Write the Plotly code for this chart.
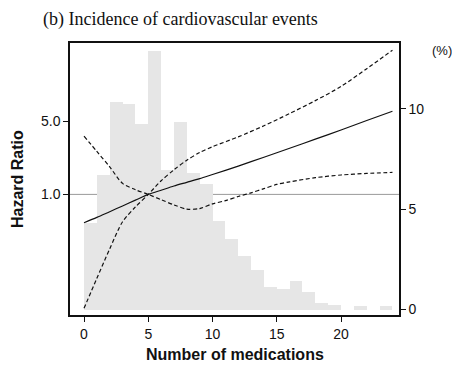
import plotly.graph_objects as go

# Histogram: share of patients (%) by number of medications (bins of width 1, 0..23)
bin_starts = list(range(24))
bin_pct = [4.32, 6.70, 10.31, 10.23, 9.25, 12.86, 6.95, 9.33, 6.81, 6.26,
           4.40, 3.50, 2.67, 1.97, 1.10, 1.03, 1.43, 0.87, 0.31, 0.21,
           0.0, 0.15, 0.0, 0.15]

# Hazard ratio curve
hr_x = [0, 1, 2, 3, 4, 5, 6, 7, 8, 9, 10, 12, 14, 16, 18, 20, 22, 24]
hr_y = [0.537, 0.603, 0.684, 0.776, 0.881, 1.0, 1.096, 1.202, 1.303, 1.413,
        1.549, 1.862, 2.265, 2.754, 3.365, 4.121, 5.070, 6.223]

# Confidence band curves (dashed)
ci_a_x = [0, 1, 2, 3, 4, 5, 6, 7, 8, 9, 10, 11, 12, 13, 14, 15, 16, 18, 20, 22, 24]
ci_a_y = [3.597, 2.570, 1.832, 1.274, 1.109, 1.0, 0.891, 0.794, 0.724, 0.733,
          0.813, 0.871, 0.955, 1.035, 1.135, 1.245, 1.318, 1.445, 1.531, 1.585, 1.622]
ci_b_x = [0, 1, 2, 3, 4, 5, 6, 7, 8, 9, 10, 12, 14, 16, 18, 20, 22, 24]
ci_b_y = [0.0818, 0.158, 0.302, 0.548, 0.759, 1.0, 1.349, 1.718, 2.123, 2.512,
          2.851, 3.540, 4.519, 5.916, 7.852, 10.72, 15.85, 23.77]

hr_ticks = [1.0, 5.0]
hr_ticktext = ["1.0", "5.0"]
pct_ticks = [0, 5, 10]
x_ticks = [0, 5, 10, 15, 20]

fig = go.Figure()
fig.add_trace(go.Bar(
    x=[b + 0.5 for b in bin_starts], y=bin_pct, width=1.0,
    marker=dict(color="#e6e6e6", line=dict(width=0)),
    yaxis="y", hoverinfo="skip", showlegend=False))

for xs, ys, dash in [(ci_a_x, ci_a_y, "4px,2.5px"), (ci_b_x, ci_b_y, "4px,2.5px"),
                     (hr_x, hr_y, "solid")]:
    fig.add_trace(go.Scatter(
        x=xs, y=ys, mode="lines", yaxis="y2",
        line=dict(color="#111111", width=1.2, dash=dash, shape="spline", smoothing=0.8),
        showlegend=False))

fig.add_shape(type="line", xref="paper", x0=0, x1=1, yref="y2", y0=1.0, y1=1.0,
              line=dict(color="#9a9a9a", width=1), layer="below")

axis_font = dict(family="Liberation Sans, Arial, sans-serif", size=14, color="#111111")

# page body has an 8px default margin; figure is sized to fit the 460x368 window
fig.update_layout(
    width=452, height=360,
    margin=dict(l=62, r=61, t=35, b=53),
    paper_bgcolor="white", plot_bgcolor="white",
    bargap=0,
    xaxis=dict(range=[-1.09, 24.51], tickvals=x_ticks, ticks="outside", ticklen=5,
               tickcolor="#111", tickwidth=1, showgrid=False, zeroline=False,
               showline=True, linecolor="#111", linewidth=1.5, mirror=True,
               tickfont=axis_font, automargin=False),
    yaxis=dict(side="right", range=[-0.274, 13.27], tickvals=pct_ticks, ticks="outside",
               ticklen=5, tickcolor="#111", tickwidth=1, showgrid=False, zeroline=False,
               showline=True, linecolor="#111", linewidth=1.5, tickfont=axis_font,
               automargin=False),
    yaxis2=dict(type="log", overlaying="y", side="left", range=[-1.151, 1.445],
                tickvals=hr_ticks, ticktext=hr_ticktext, ticks="outside", ticklen=5,
                tickcolor="#111", tickwidth=1, showgrid=False, zeroline=False,
                showline=True, linecolor="#111", linewidth=1.5, tickfont=axis_font,
                automargin=False),
)

fig.add_annotation(text="(b) Incidence of cardiovascular events", xref="paper", yref="paper",
                   x=-0.085, y=1.1287, xanchor="left", yanchor="top", showarrow=False,
                   borderpad=0,
                   font=dict(family="Liberation Serif, Times New Roman, serif", size=18, color="#111"))
fig.add_annotation(text="(%)", xref="paper", yref="paper", x=1.131, y=0.974,
                   xanchor="center", yanchor="middle", showarrow=False,
                   font=dict(family="Liberation Sans, Arial, sans-serif", size=13, color="#111"))
fig.add_annotation(text="<b>Hazard Ratio</b>", xref="paper", yref="paper", x=-0.161, y=0.5,
                   xanchor="center", yanchor="middle", textangle=-90, showarrow=False,
                   font=dict(family="Liberation Sans, Arial, sans-serif", size=16, color="#111"))
fig.add_annotation(text="<b>Number of medications</b>", xref="paper", yref="paper", x=0.5, y=-0.145,
                   xanchor="center", yanchor="middle", showarrow=False,
                   font=dict(family="Liberation Sans, Arial, sans-serif", size=16, color="#111"))

fig.write_html("out.html")
